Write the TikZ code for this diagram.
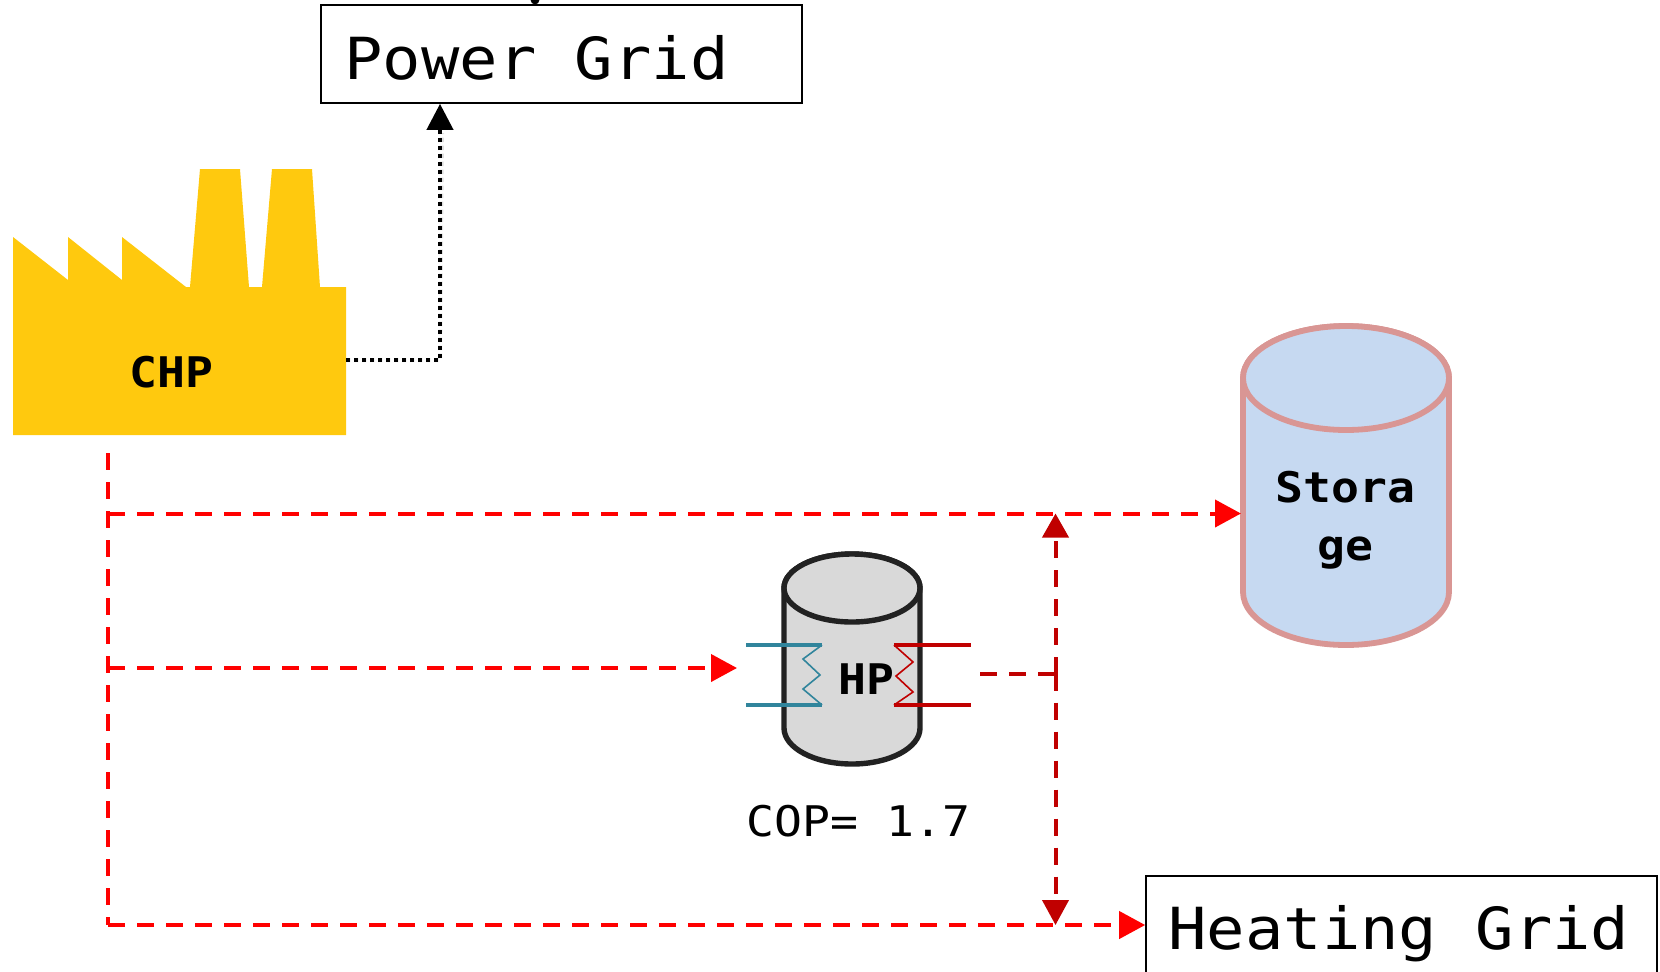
\documentclass[tikz,border=0pt]{standalone}
\usepackage{fontspec}
\setmonofont[FakeStretch=1.1]{DejaVu Sans Mono}
\usepackage[svgnames]{xcolor}
\usetikzlibrary{shapes,arrows}
\usetikzlibrary{arrows.meta}
\definecolor{chpyellow}{HTML}{FFC90E}
\definecolor{heatred}{HTML}{C00000}
\definecolor{coldteal}{HTML}{31859C}
\definecolor{storeblue}{HTML}{C6D9F1}
\definecolor{storerim}{HTML}{D99694}
\definecolor{hpgray}{HTML}{D9D9D9}
\definecolor{hprim}{HTML}{222222}
\tikzset{
    gridbox/.style={draw=black, line width=0.8pt, inner sep=0pt, minimum height=0pt},
    bigtext/.style={inner sep=0pt, anchor=base west, font=\fontsize{29}{29}\selectfont\ttfamily},
    smalltext/.style={inner sep=0pt, anchor=base west, font=\fontsize{21.1}{29}\selectfont\ttfamily\bfseries},
    redflow/.style={draw=red, line width=2pt, dash pattern=on 8.5pt off 6pt},
    redtip/.style={-{Triangle[length=13pt,width=13.5pt,fill=red]}},
    hotflow/.style={draw=heatred, line width=2pt, dash pattern=on 8.5pt off 6pt},
    dotflow/.style={draw=black, line width=2pt, dash pattern=on 2.2pt off 1.8pt},
    tankspot/.style={inner sep=0pt, outer sep=0pt},
    hptank/.style={draw=hprim, fill=hpgray, line width=2.7pt},
    storetank/.style={draw=storerim, fill=storeblue, line width=2.9pt}
}
\begin{document}
\begin{tikzpicture}[x=0.5pt,y=-0.5pt]
            \useasboundingbox (0,0) rectangle (1660,971);
            \fill[black] (535,0) circle (2.2pt);
            \node[gridbox, minimum width=240.5pt, minimum height=49pt] (powergrid) at (561.5,54) {};
            \node[bigtext] (powerlabel) at (344,79) {Power Grid};
            \node[gridbox, minimum width=255.5pt, minimum height=60pt] (heatinggrid) at (1401.5,936) {};
            \node[bigtext] (heatinglabel) at (1168,949) {Heating Grid};
            \fill[chpyellow] (13,237) -- (68,280) -- (68,237) -- (122,280) -- (122,237) -- (186,287)
                -- (190,287) -- (200,169) -- (240,169) -- (249,287) -- (262,287) -- (272,169)
                -- (312,169) -- (320,287) -- (346,287) -- (346,435) -- (13,435) -- cycle;
            \node[smalltext] (chp) at (129,387) {CHP};
            \coordinate (chpout) at (346,360);
            \coordinate (gridcorner) at (440,360);
            \draw[dotflow, draw=gray!25, xshift=1pt, yshift=-1.5pt] (chpout) -- (gridcorner) -- (440,130);
            \draw[dotflow, -{Triangle[length=13pt,width=13pt,fill=black]}] (chpout) -- (gridcorner) -- (gridcorner |- powergrid.south);
            \node[tankspot, minimum width=70pt, minimum height=107pt] (hp) at (852,659) {};
            \draw[hptank] (784,588) -- (784,728) arc[start angle=180, end angle=360, x radius=34pt, y radius=18pt]
                -- (920,588) arc[start angle=0, end angle=180, x radius=34pt, y radius=17pt] -- cycle;
            \draw[hptank] (852,588) ellipse [x radius=34pt, y radius=17pt];
            \node[tankspot, minimum width=104pt, minimum height=161pt] (storage) at (1345,485) {};
            \draw[storetank] (1243,378) -- (1243,592) arc[start angle=180, end angle=360, x radius=51.5pt, y radius=26.5pt]
                -- (1449,378) arc[start angle=0, end angle=180, x radius=51.5pt, y radius=26pt] -- cycle;
            \draw[storetank] (1346,378) ellipse [x radius=51.5pt, y radius=26pt];
            \draw[coldteal, line width=1.6pt] (746,645) -- (822,645) (746,705) -- (822,705);
            \draw[coldteal, line width=0.8pt] (822,645) -- (803,659) -- (820,675) -- (803,689) -- (822,705);
            \draw[heatred, line width=1.6pt] (894,645) -- (971,645) (894,705) -- (971,705);
            \draw[heatred, line width=0.8pt] (894,645) -- (913,662) -- (896,676) -- (913,692) -- (894,705);
            \node[smalltext] (hplabel) at (838,694) {HP};
            \node[smalltext, font=\fontsize{21.1}{29}\selectfont\ttfamily] (cop) at (746,836) {COP= 1.7};
            \node[smalltext] (storelabel) at (1275,502) {Stora};
            \node[smalltext] (storelabeltwo) at (1317,560) {ge};
            \coordinate (busstart) at (108,453);
            \coordinate (busend) at (108,925);
            \coordinate (busstore) at (108,513.5);
            \coordinate (bushp) at (108,668);
            \coordinate (hpin) at (737,668);
            \coordinate (hpout) at (980,673.5);
            \coordinate (hotjoin) at (1055.5,673.5);
            \draw[redflow] (busstart) -- (busend);
            \draw[redflow, redtip] (busend) -- (busend -| heatinggrid.west);
            \draw[redflow, redtip] (busstore) -- (busstore -| storage.west);
            \draw[redflow, redtip] (bushp) -- (hpin);
            \draw[hotflow] (hpout) -- (hotjoin);
            \draw[hotflow, -{Triangle[length=12pt,width=13pt,fill=heatred]}] (hotjoin) -- (hotjoin |- busstore);
            \draw[hotflow, -{Triangle[length=12.5pt,width=13pt,fill=heatred]}] (hotjoin) -- (hotjoin |- busend);
        \end{tikzpicture}
\end{document}
